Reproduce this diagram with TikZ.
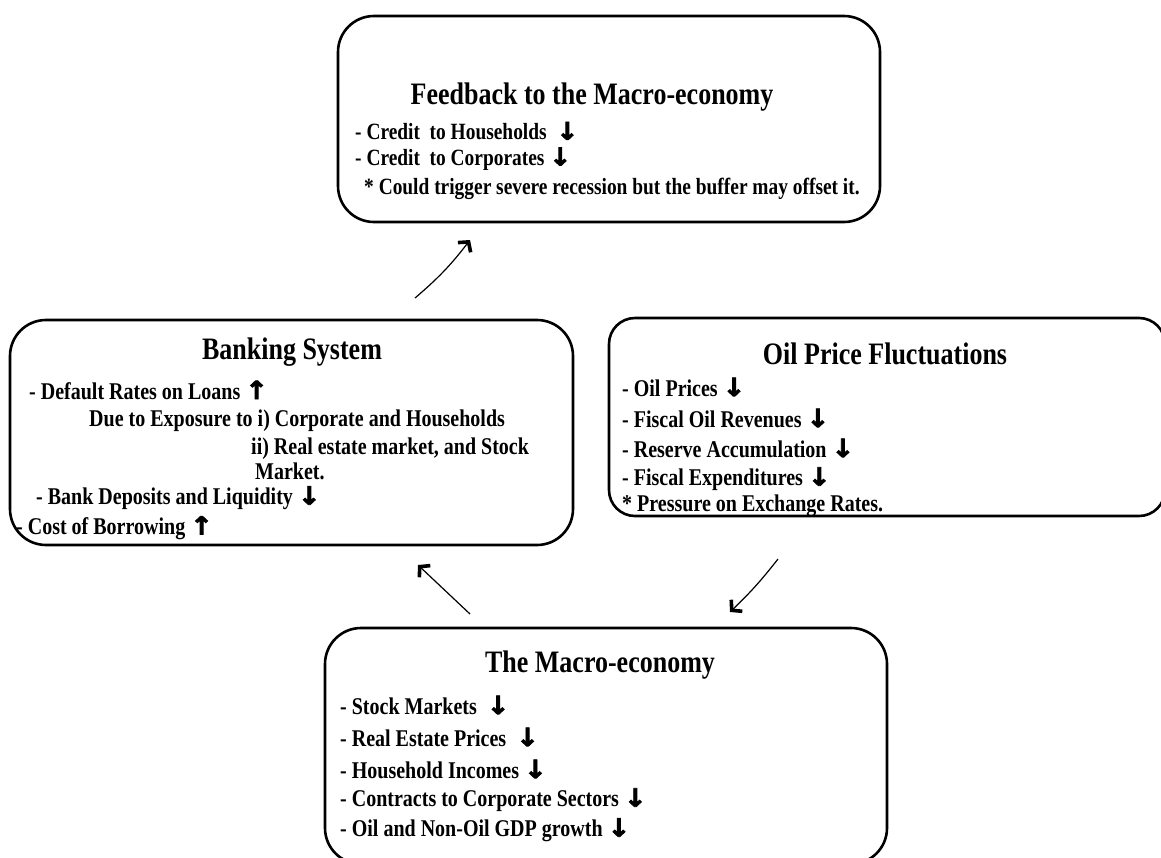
\documentclass[tikz,border=0pt]{standalone}
\usepackage{graphicx}
\usepackage{fontspec}
\setmainfont{Liberation Serif}
\newfontfamily\arrowfont[FakeBold=3]{DejaVu Sans}
\usetikzlibrary{arrows.meta}
\newcommand\dn{{\arrowfont\bfseries\scalebox{1.35}[1.05]{↓}}}
\newcommand\up{{\arrowfont\bfseries\scalebox{1.35}[1.05]{↑}}}
\newcommand\tall[1]{\scalebox{1}[1.2]{#1}}
\begin{document}
\begin{tikzpicture}[x=1pt,y=-1pt,
  box/.style={draw, line width=2.6pt, rounded corners=36pt, inner sep=0pt},
  ttl/.style={font=\bfseries\fontsize{26}{30}\selectfont, anchor=center, inner sep=0pt},
  itm/.style={font=\bfseries\fontsize{20}{24}\selectfont, anchor=west, inner sep=0pt},
  itms/.style={font=\bfseries\fontsize{19.4}{23}\selectfont, anchor=west, inner sep=0pt},
  flow/.style={line width=1.2pt, -{Straight Barb[length=7pt,width=16pt,line width=3.6pt]}}
]
\useasboundingbox (0,0) rectangle (1161,857);
% boxes
\node[box, minimum width=542pt, minimum height=206pt] (topbox) at (609,119) {};
\node[box, minimum width=563pt, minimum height=225pt] (bankbox) at (291.5,432.5) {};
\node[box, rounded corners=26pt, minimum width=556pt, minimum height=198pt] (oilbox) at (887,417) {};
\node[box, minimum width=562pt, minimum height=236pt] (macrobox) at (606,746) {};
% top box
\node[ttl] (toptitle) at (592,97) {\tall{Feedback to the Macro-economy}};
\node[itms] (t1) at (355,131) {\tall{- Credit\ \ to Households\ \ \dn}};
\node[itms] (t2) at (355,159) {\tall{- Credit\ \ to Corporates \dn}};
\node[itms] (t3) at (364,189) {\tall{* Could trigger severe recession but the buffer may offset it.}};
% banking
\node[ttl] (banktitle) at (292,352) {\tall{Banking System}};
\node[itm] (b1) at (29,390) {\tall{- Default Rates on Loans \up}};
\node[itm] (b2) at (89,421) {\tall{Due to Exposure to i) Corporate and Households}};
\node[itm] (b3) at (251,449) {\tall{ii) Real estate market, and Stock}};
\node[itm] (b4) at (255,471) {\tall{Market.}};
\node[itm] (b5) at (36,498) {\tall{- Bank Deposits and Liquidity \dn}};
\node[itm] (b6) at (16,528) {\tall{- Cost of Borrowing \up}};
% oil
\node[ttl] (oiltitle) at (885,354) {\tall{Oil Price Fluctuations}};
\node[itm] (o1) at (622,387) {\tall{- Oil Prices \dn}};
\node[itm] (o2) at (622,418) {\tall{- Fiscal Oil Revenues \dn}};
\node[itm] (o3) at (622,448) {\tall{- Reserve Accumulation \dn}};
\node[itm] (o4) at (622,479) {\tall{- Fiscal Expenditures \dn}};
\node[itm] (o5) at (622,506) {\tall{* Pressure on Exchange Rates.}};
% macro
\node[ttl] (macrotitle) at (600,665) {\tall{The Macro-economy}};
\node[itm] (m1) at (340,705) {\tall{- Stock Markets\ \ \dn}};
\node[itm] (m2) at (340,737) {\tall{- Real Estate Prices\ \ \dn}};
\node[itm] (m3) at (340,769) {\tall{- Household Incomes \dn}};
\node[itm] (m4) at (340,800) {\tall{- Contracts to Corporate Sectors \dn}};
\node[itm] (m5) at (340,830) {\tall{- Oil and Non-Oil GDP growth \dn}};
% connectors
\coordinate (a1s) at (415,298); \coordinate (a1e) at (470,240);
\coordinate (a2s) at (470,614); \coordinate (a2e) at (418,565);
\coordinate (a3s) at (778,559); \coordinate (a3e) at (730,612);
\draw[flow] (a1s) to[bend right=6] (a1e);
\draw[flow] (a2s) to (a2e);
\draw[flow] (a3s) to[bend left=4] (a3e);
\end{tikzpicture}
\end{document}
